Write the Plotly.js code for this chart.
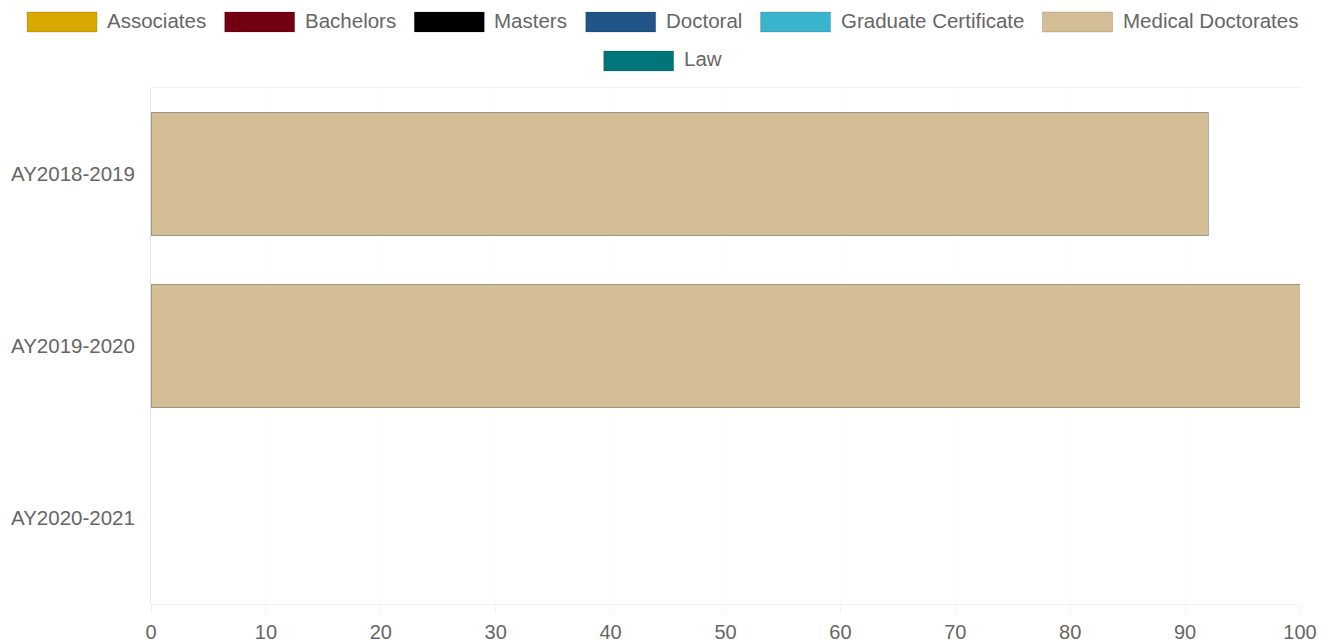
<!DOCTYPE html>
<html>
<head>
<meta charset="utf-8">
<script src="https://cdn.plot.ly/plotly-3.0.1.min.js"></script>
<style>html,body{margin:0;padding:0;background:#fff;}#chart{width:1331px;height:644px;}</style>
</head>
<body>
<div id="chart"></div>
<script>
const categories = ["AY2018-2019", "AY2019-2020", "AY2020-2021"];
const seriesNames = ["Associates", "Bachelors", "Masters", "Doctoral", "Graduate Certificate", "Medical Doctorates", "Law"];
const seriesColors = ["#d9a900", "#730011", "#000000", "#215487", "#3ab4cc", "#d3be95", "#00767a"];
const associates = [null, null, null];
const bachelors = [null, null, null];
const masters = [null, null, null];
const doctoral = [null, null, null];
const gradCert = [null, null, null];
const medicalDoctorates = [92, 100, null];
const law = [null, null, null];
const xTicks = [0, 10, 20, 30, 40, 50, 60, 70, 80, 90, 100];

const seriesValues = [associates, bachelors, masters, doctoral, gradCert, medicalDoctorates, law];

const W = 1331, H = 644;
const M = {l: 151, r: 31, t: 88, b: 40};
const PW = W - M.l - M.r, PH = H - M.t - M.b;
const FONT = 'Liberation Sans, Arial, sans-serif';
const TXT = '#666';
const LEG_FS = 20.5;

const traces = seriesNames.map((name, i) => ({
  type: 'bar',
  orientation: 'h',
  name: name,
  y: categories,
  x: seriesValues[i],
  marker: {color: seriesColors[i], line: {color: 'rgba(120,120,120,0.6)', width: 1}},
  hoverinfo: 'x+y+name',
  showlegend: false
}));

// Custom legend (Chart.js-like wide swatches), laid out from measured text widths
const ctx = document.createElement('canvas').getContext('2d');
ctx.font = LEG_FS + 'px "Liberation Sans"';
const boxW = 70, boxH = 20, boxGap = 10, itemGap = 18.5, rowH = 39, firstRowY = 22;
const items = seriesNames.map((n, i) => ({name: n, color: seriesColors[i], tw: ctx.measureText(n).width}));
const rows = [];
let cur = [], curW = 0;
items.forEach(it => {
  const w = boxW + boxGap + it.tw;
  const add = cur.length ? itemGap + w : w;
  if (curW + add > W - 40 && cur.length) { rows.push({items: cur, w: curW}); cur = [it]; curW = w; }
  else { cur.push(it); curW += add; }
});
if (cur.length) rows.push({items: cur, w: curW});

const shapes = [];
const annotations = [];
const px2x = px => (px - M.l) / PW;
const py2y = py => (H - M.b - py) / PH;
rows.forEach((row, r) => {
  let x = (W - row.w) / 2 - 3;
  const cy = firstRowY + r * rowH;
  row.items.forEach(it => {
    shapes.push({type: 'rect', xref: 'paper', yref: 'paper',
      x0: px2x(x), x1: px2x(x + boxW), y0: py2y(cy + boxH / 2), y1: py2y(cy - boxH / 2),
      fillcolor: it.color, line: {color: 'rgba(0,0,0,0.15)', width: 1}, layer: 'above'});
    annotations.push({xref: 'paper', yref: 'paper', x: px2x(x + boxW + boxGap - 2), y: py2y(cy - 2),
      xanchor: 'left', yanchor: 'middle', text: it.name, showarrow: false,
      font: {family: FONT, size: LEG_FS, color: TXT}});
    x += boxW + boxGap + it.tw + itemGap;
  });
});

const layout = {
  width: W,
  height: H,
  barmode: 'stack',
  bargap: 0.28,
  margin: M,
  paper_bgcolor: '#fff',
  plot_bgcolor: '#fff',
  font: {family: FONT, color: TXT, size: 20},
  showlegend: false,
  shapes: shapes,
  annotations: annotations,
  xaxis: {
    range: [0, 100],
    tickvals: xTicks,
    ticktext: xTicks.map(String),
    showgrid: true,
    gridcolor: '#fbfbfb',
    zeroline: false,
    showline: true,
    mirror: true,
    linecolor: '#f2f2f2',
    ticks: 'outside',
    ticklen: 8,
    tickcolor: '#f2f2f2',
    ticklabelstandoff: 2,
    tickfont: {size: 20, color: TXT},
    fixedrange: true
  },
  yaxis: {
    type: 'category',
    categoryorder: 'array',
    categoryarray: categories,
    autorange: 'reversed',
    showgrid: false,
    zeroline: false,
    showline: true,
    linecolor: '#e6e6e6',
    ticks: '',
    ticklabelstandoff: 11,
    tickfont: {size: 20.5, color: TXT},
    fixedrange: true
  }
};

Plotly.newPlot('chart', traces, layout, {displayModeBar: false, responsive: false});
</script>
</body>
</html>
